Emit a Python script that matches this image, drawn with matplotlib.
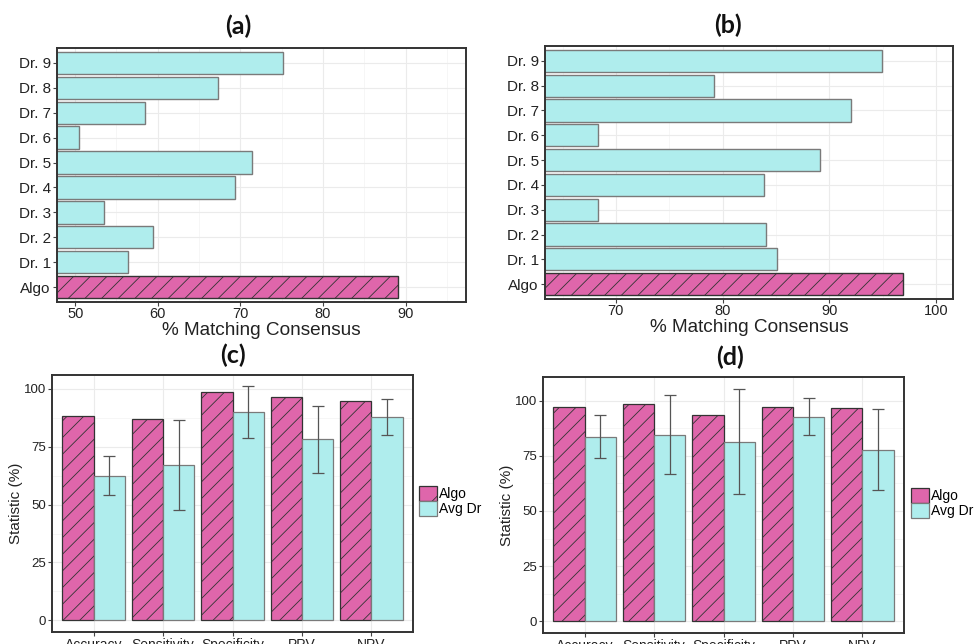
import matplotlib
matplotlib.use("Agg")
import matplotlib.pyplot as plt
from matplotlib.patches import Patch
from matplotlib.ticker import MultipleLocator
import numpy as np

# ---------------- data ----------------
raters = ['Algo', 'Dr. 1', 'Dr. 2', 'Dr. 3', 'Dr. 4', 'Dr. 5', 'Dr. 6', 'Dr. 7', 'Dr. 8', 'Dr. 9']
match_a = [89.1, 56.4, 59.4, 53.5, 69.3, 71.4, 50.5, 58.4, 67.3, 75.2]
match_b = [96.9, 85.1, 84.1, 68.3, 83.9, 89.1, 68.3, 92.0, 79.2, 94.9]

stats = ['Accuracy', 'Sensitivity', 'Specificity', 'PPV', 'NPV']
algo_c = [88.2, 87.0, 98.8, 96.4, 94.7]
avgdr_c = [62.6, 67.2, 89.9, 78.2, 87.9]
sd_c = [8.5, 19.5, 11.2, 14.3, 7.9]

algo_d = [97.0, 98.6, 93.6, 97.2, 96.7]
avgdr_d = [83.7, 84.6, 81.4, 92.8, 77.8]
sd_d = [9.9, 18.0, 23.8, 8.5, 18.3]

titles = ['(a)', '(b)', '(c)', '(d)']
legend_labels = ['Algo', 'Avg Dr']

# ---------------- style ----------------
PINK = '#DF66AB'
CYAN = '#AFEDED'
EDGE_P = '#333333'
EDGE_C = '#7a7a7a'
FRAME = '#333333'
GRID_MAJ = '#EBEBEB'
GRID_MIN = '#F5F5F5'
TXT = '#222222'

plt.rcParams['font.family'] = ['Liberation Sans', 'DejaVu Sans']
plt.rcParams['hatch.linewidth'] = 0.6

W, H = 976, 644
fig = plt.figure(figsize=(W / 100, H / 100), dpi=100)


def ax_at(l, t, r, b):
    return fig.add_axes([l / W, 1 - b / H, (r - l) / W, (b - t) / H])


def style_axes(ax):
    for s in ax.spines.values():
        s.set_color(FRAME)
        s.set_linewidth(1.4)
    ax.tick_params(axis='both', which='major', length=3, width=0.8, color='#444444',
                   labelcolor=TXT, labelsize=10, pad=1.5)
    ax.tick_params(axis='both', which='minor', length=0)
    ax.set_axisbelow(True)


def hbar_panel(ax, values, xlim):
    y = np.arange(len(raters))
    colors = [PINK] + [CYAN] * (len(raters) - 1)
    edges = [EDGE_P] + [EDGE_C] * (len(raters) - 1)
    hatches = ['//'] + [''] * (len(raters) - 1)
    for yi, v, c, e, h in zip(y, values, colors, edges, hatches):
        ax.barh(yi, v, height=0.9, color=c, edgecolor=e, linewidth=1.0, hatch=h)
    ax.set_yticks(y)
    ax.set_ylim(-0.6, len(raters) - 0.4)
    ax.set_xlim(*xlim)
    ax.xaxis.set_major_locator(MultipleLocator(10))
    ax.xaxis.set_minor_locator(MultipleLocator(5))
    ax.grid(True, which='major', color=GRID_MAJ, linewidth=0.8)
    ax.grid(True, which='minor', axis='x', color=GRID_MIN, linewidth=0.6)
    style_axes(ax)
    ax.set_yticklabels(raters)
    ax.tick_params(axis='y', labelsize=11)
    ax.tick_params(axis='x', labelsize=10.5, pad=0.5)
    ax.set_xlabel('% Matching Consensus', fontsize=13.7, color=TXT, labelpad=0.5)


def vbar_panel(ax, algo, avg, sd, ylim):
    x = np.arange(len(stats))
    w = 0.45
    ax.bar(x - w / 2, algo, width=w, color=PINK, edgecolor=EDGE_P, linewidth=0.9, hatch='//')
    ax.bar(x + w / 2, avg, width=w, color=CYAN, edgecolor=EDGE_C, linewidth=0.9)
    ax.errorbar(x + w / 2, avg, yerr=sd, fmt='none', ecolor='#555555', elinewidth=0.9,
                capsize=4.5, capthick=0.9)
    ax.set_xticks(x)
    ax.set_xlim(-0.6, len(stats) - 0.4)
    ax.set_ylim(*ylim)
    ax.set_yticks([0, 25, 50, 75, 100])
    ax.yaxis.set_minor_locator(MultipleLocator(12.5))
    ax.grid(True, which='major', color=GRID_MAJ, linewidth=0.8)
    ax.grid(True, which='minor', axis='y', color=GRID_MIN, linewidth=0.6)
    style_axes(ax)
    ax.set_xticklabels(stats, fontsize=10)
    ax.tick_params(axis='y', labelsize=9.5)
    ax.set_ylabel('Statistic (%)', fontsize=11, color=TXT, labelpad=0.5)


ax_a = ax_at(57, 48, 466, 302)
hbar_panel(ax_a, match_a, (47.8, 97.3))
ax_b = ax_at(545, 46, 953, 299)
hbar_panel(ax_b, match_b, (63.35, 101.6))
ax_c = ax_at(52, 375, 413, 632)
vbar_panel(ax_c, algo_c, avgdr_c, sd_c, (-5.05, 106.05))
ax_d = ax_at(543, 377, 904, 633)
vbar_panel(ax_d, algo_d, avgdr_d, sd_d, (-5.27, 110.7))

# panel titles
for txt, (px, py) in zip(titles, [(238, 26), (728, 25), (233, 355), (730, 357)]):
    fig.text(px / W, 1 - py / H, txt, ha='center', va='center', fontsize=18,
             fontweight='bold', family=['Lato', 'DejaVu Sans'], color='#111111')

# legends
handles = [Patch(facecolor=PINK, edgecolor=EDGE_P, hatch='/', linewidth=0.9),
           Patch(facecolor=CYAN, edgecolor=EDGE_C, linewidth=0.9)]
for lx, ly in [(419, 486), (911, 488)]:
    fig.legend(handles, legend_labels, loc='upper left',
               bbox_to_anchor=(lx / W, 1 - ly / H), frameon=False, fontsize=10,
               handlelength=1.3, handleheight=1.3, handletextpad=0.15,
               labelspacing=0.0, borderpad=0, borderaxespad=0)

fig.savefig('out.png', dpi=100, facecolor='white')
